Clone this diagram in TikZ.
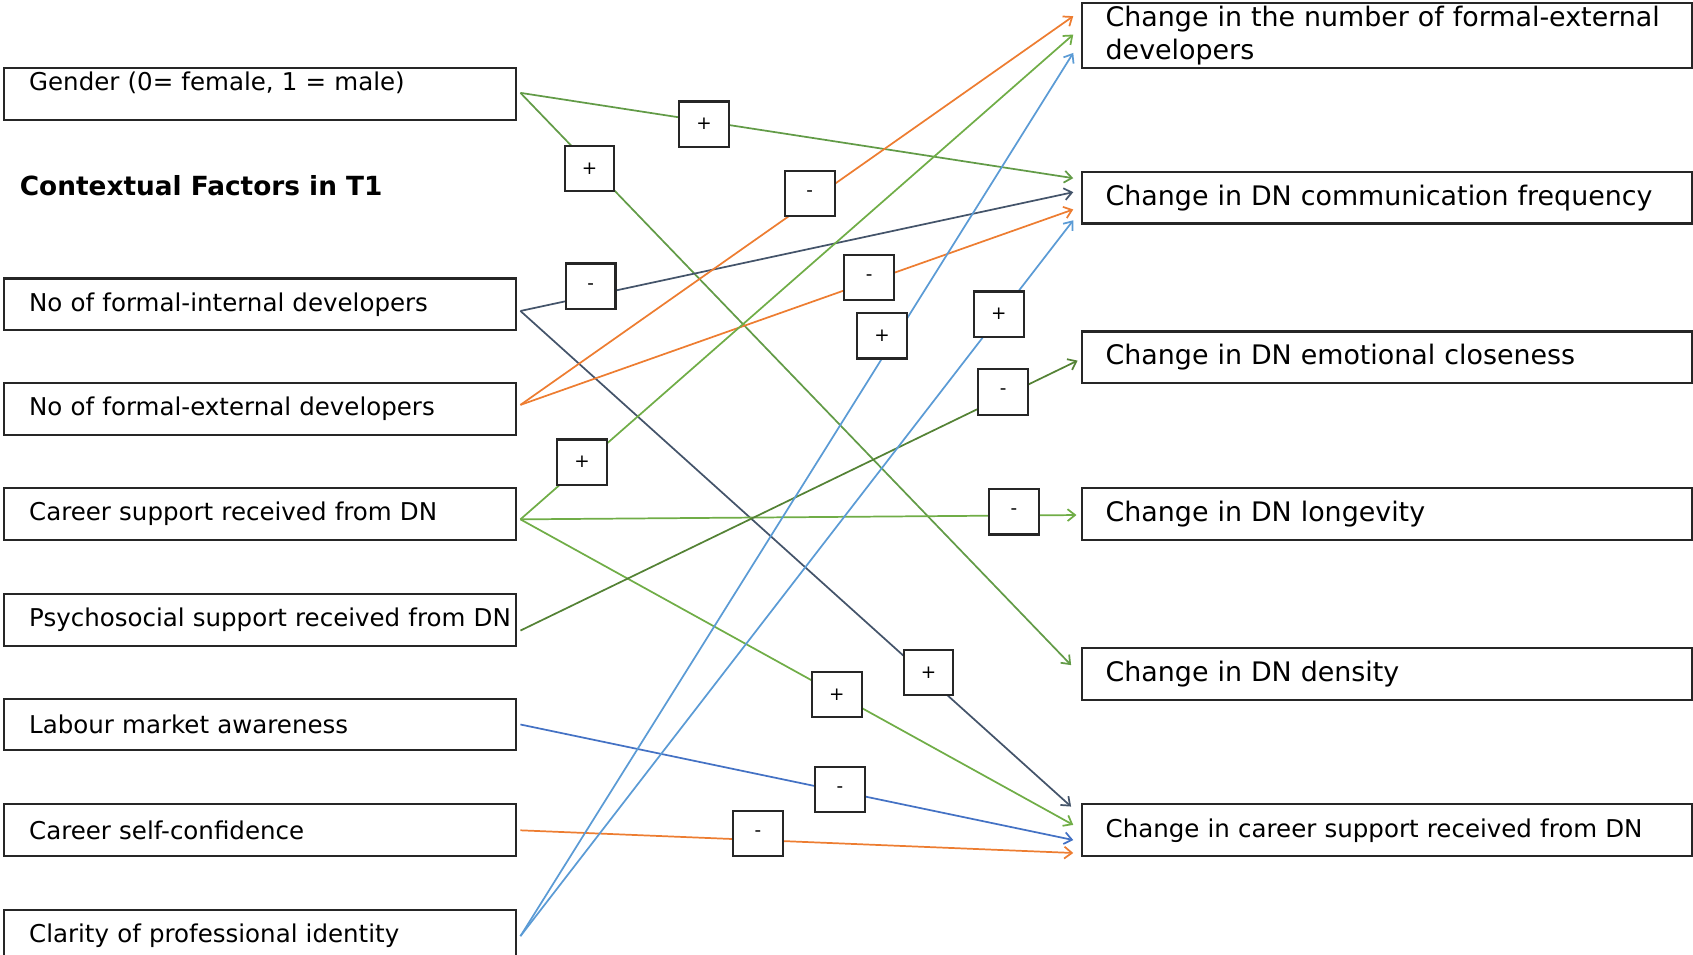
\documentclass[tikz,border=0pt]{standalone}
\usepackage{fontspec}
\setmainfont{DejaVu Sans}
\usetikzlibrary{arrows.meta}

\definecolor{cOrange}{HTML}{ED7D31}
\definecolor{cGreen}{HTML}{70AD47}
\definecolor{cGenderGreen}{HTML}{629B47}
\definecolor{cDarkGreen}{HTML}{548235}
\definecolor{cSlate}{HTML}{44546A}
\definecolor{cBlueLight}{HTML}{5B9BD5}
\definecolor{cBlue}{HTML}{4472C4}

\begin{document}
\begin{tikzpicture}[x=0.5pt,y=-0.5pt,
  boxline/.style={draw=black!85, line width=1pt},
  lbox/.style={boxline, rectangle, anchor=north west, minimum height=24pt,
    inner xsep=11.5pt, inner ysep=0pt, text width=214pt, align=left,
    font=\fontsize{11.35pt}{13.6pt}\selectfont},
  rbox/.style={boxline, rectangle, anchor=north west, minimum height=24pt,
    inner xsep=11pt, inner ysep=0pt, text width=260.5pt, align=left,
    font=\fontsize{12.45pt}{15pt}\selectfont},
  sign/.style={boxline, fill=white, rectangle, minimum width=23pt,
    minimum height=21pt, inner sep=0pt, font=\fontsize{8.5pt}{10pt}\selectfont},
  link/.style={line width=0.8pt, -{Straight Barb[length=3.5pt,width=5.5pt]}},
]
\useasboundingbox (0,0) rectangle (1568,884);

% ---------- contextual factors (left column) ----------
\node[lbox, text height=10.5pt, text depth=13.5pt] (gen) at (3,62) {Gender (0= female, 1 = male)};
\node[anchor=west, inner sep=0pt, font=\fontsize{12.2pt}{14pt}\selectfont\bfseries] (title) at (18,172) {Contextual Factors in T1};
\node[lbox] (fint) at (3,257) {No of formal-internal developers};
\node[lbox] (fext) at (3,354) {No of formal-external developers};
\node[lbox] (csup) at (3,451) {Career support received from DN};
\node[lbox] (psup) at (3,549) {\mbox{Psychosocial support received from DN}};
\node[lbox] (lab)  at (3,646) {Labour market awareness};
\node[lbox] (conf) at (3,744) {Career self-confidence};
\node[lbox] (clar) at (3,842) {Clarity of professional identity};

% ---------- outcomes (right column) ----------
\node[rbox, minimum height=30pt] (oext) at (1001,2) {\mbox{Change in the number of formal-external}\\developers};
\node[rbox] (ocom) at (1001,158) {Change in DN communication frequency};
\node[rbox] (oemo) at (1001,306) {Change in DN emotional closeness};
\node[rbox] (olon) at (1001,451) {Change in DN longevity};
\node[rbox] (oden) at (1001,599) {Change in DN density};
\node[rbox, font=\fontsize{11.35pt}{13.6pt}\selectfont] (ocar) at (1001,744) {Change in career support received from DN};

% ---------- paths ----------
\draw[link, cGenderGreen] ([xshift=1.5pt,yshift=0.5pt]gen.east) -- ([xshift=-3.5pt,yshift=9pt]ocom.west);
\draw[link, cGenderGreen] ([xshift=1.5pt,yshift=0.5pt]gen.east) -- ([xshift=-4.5pt,yshift=4pt]oden.west);

\draw[link, cSlate] ([xshift=1.5pt,yshift=-3pt]fint.east) -- ([xshift=-3.5pt,yshift=2.5pt]ocom.west);
\draw[link, cSlate] ([xshift=1.5pt,yshift=-3pt]fint.east) -- ([xshift=-4.5pt,yshift=11pt]ocar.west);

\draw[link, cOrange] ([xshift=1.5pt,yshift=2pt]fext.east) -- ([xshift=-3.5pt,yshift=9pt]oext.west);
\draw[link, cOrange] ([xshift=1.5pt,yshift=2pt]fext.east) -- ([xshift=-3.5pt,yshift=-5.5pt]ocom.west);

\draw[link, cGreen] ([xshift=1.5pt,yshift=-2.5pt]csup.east) -- ([xshift=-3.5pt,yshift=0.5pt]oext.west);
\draw[link, cGreen] ([xshift=1.5pt,yshift=-2.5pt]csup.east) -- ([xshift=-2pt,yshift=-0.5pt]olon.west);
\draw[link, cGreen] ([xshift=1.5pt,yshift=-2.5pt]csup.east) -- ([xshift=-3.5pt,yshift=2.5pt]ocar.west);

\draw[link, cDarkGreen] ([xshift=1.5pt,yshift=-5pt]psup.east) -- ([xshift=-1.5pt,yshift=-1.5pt]oemo.west);

\draw[link, cBlue] ([xshift=1.5pt]lab.east) -- ([xshift=-3.5pt,yshift=-4.5pt]ocar.west);
\draw[link, cOrange] ([xshift=1.5pt]conf.east) -- ([xshift=-3.5pt,yshift=-10.5pt]ocar.west);

\draw[link, cBlueLight] ([xshift=1.5pt]clar.east) -- ([xshift=-3.5pt,yshift=-8pt]oext.west);
\draw[link, cBlueLight] ([xshift=1.5pt]clar.east) -- ([xshift=-3.5pt,yshift=-10.5pt]ocom.west);

% ---------- signs of the effects ----------
\node[sign] (s1)  at (652,115) {+};
\node[sign] (s2)  at (546,156) {+};
\node[sign] (s3)  at (750,179) {-};
\node[sign] (s4)  at (547,265) {-};
\node[sign] (s5)  at (805,257) {-};
\node[sign] (s6)  at (817,311) {+};
\node[sign] (s7)  at (925,291) {+};
\node[sign] (s8)  at (929,363) {-};
\node[sign] (s9)  at (539,428) {+};
\node[sign] (s10) at (939,474) {-};
\node[sign] (s11) at (860,623) {+};
\node[sign] (s12) at (775,643) {+};
\node[sign] (s13) at (778,731) {-};
\node[sign] (s14) at (702,772) {-};
\end{tikzpicture}
\end{document}
